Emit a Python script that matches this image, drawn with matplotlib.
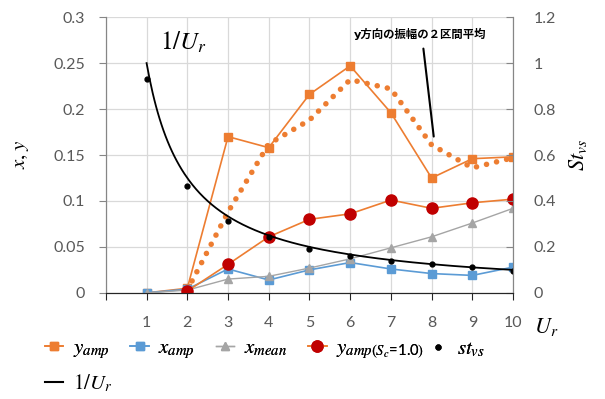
import numpy as np
import matplotlib.pyplot as plt
from matplotlib.lines import Line2D

plt.rcParams['mathtext.fontset'] = 'stix'
plt.rcParams['font.family'] = ['Lato', 'Noto Sans CJK JP', 'DejaVu Sans']

# data
ur = [1, 2, 3, 4, 5, 6, 7, 8, 9, 10]
y_amp = [0.0, 0.005, 0.170, 0.158, 0.216, 0.247, 0.196, 0.125, 0.146, 0.148]
x_amp = [0.0, 0.004, 0.026, 0.014, 0.025, 0.033, 0.026, 0.021, 0.019, 0.028]
x_mean = [0.0, 0.003, 0.015, 0.018, 0.027, 0.037, 0.049, 0.061, 0.076, 0.092]
ur_sc = [2, 3, 4, 5, 6, 7, 8, 9, 10]
y_amp_sc = [0.002, 0.031, 0.061, 0.080, 0.086, 0.101, 0.092, 0.098, 0.102]
# two-period moving average of y_amp (dotted trend line)
ur_ma = [2, 3, 4, 5, 6, 7, 8, 9, 10]
y_amp_ma = [0.003, 0.088, 0.162, 0.188, 0.232, 0.222, 0.161, 0.136, 0.147]
st_vs = [0.930, 0.465, 0.312, 0.242, 0.191, 0.162, 0.139, 0.127, 0.114, 0.094]
inv_ur = [1.0, 0.5, 0.333, 0.25, 0.2, 0.167, 0.143, 0.125, 0.111, 0.1]

ORANGE = '#ED7D31'
BLUE = '#5B9BD5'
GRAY = '#A5A5A5'
RED = '#C00000'
TXT = '#595959'


def smooth(xs, ys, n=20):
    # smoothed rendering of the line (log-log segments, curve through every point)
    lx = np.log(xs)
    ly = np.log(ys)
    ox, oy = [], []
    for i in range(len(xs) - 1):
        t = np.linspace(0, 1, n, endpoint=False)
        ox.extend(np.exp(lx[i] + (lx[i + 1] - lx[i]) * t))
        oy.extend(np.exp(ly[i] + (ly[i + 1] - ly[i]) * t))
    ox.append(xs[-1])
    oy.append(ys[-1])
    return ox, oy


fig = plt.figure(figsize=(6.05, 3.99), dpi=100)
ax = fig.add_axes([0.175, 0.266, 0.673, 0.691])
ax2 = ax.twinx()

ax.plot(ur_ma, y_amp_ma, color=ORANGE, lw=4, linestyle=(0, (0.01, 1.85)),
        dash_capstyle='round', zorder=3)
ax.plot(ur, y_amp, color=ORANGE, lw=1.2, marker='s', ms=6, mfc=ORANGE, mec=ORANGE, zorder=4)
ax.plot(ur, x_amp, color=BLUE, lw=1.2, marker='s', ms=6, mfc=BLUE, mec=BLUE, zorder=4)
ax.plot(ur, x_mean, color=GRAY, lw=1.0, marker='^', ms=6, mfc=GRAY, mec=GRAY, zorder=4)
ax.plot(ur_sc, y_amp_sc, color=ORANGE, lw=1.2, marker='o', ms=8, mfc=RED, mec=RED, zorder=5)

sx, sy = smooth(ur, inv_ur)
ax2.plot(sx, sy, color='black', lw=1.3)
ax2.plot(ur, st_vs, linestyle='none', marker='o', ms=3.5, color='black')

ax.set_xlim(0, 10)
ax.set_ylim(0, 0.3)
ax2.set_ylim(0, 1.2)
ax.set_yticks(np.arange(0, 0.31, 0.05))
ax.set_yticklabels(['0', '0.05', '0.1', '0.15', '0.2', '0.25', '0.3'])
ax2.set_yticks(np.arange(0, 1.21, 0.2))
ax2.set_yticklabels(['0', '0.2', '0.4', '0.6', '0.8', '1', '1.2'])
ax.set_xticks(range(0, 11))
ax.set_xticklabels([''] + [str(u) for u in ur])

ax.grid(True, color='#D9D9D9', lw=0.9)
ax.set_axisbelow(True)
for a in (ax, ax2):
    a.spines['top'].set_visible(False)
    a.spines['left'].set_color('#868686')
    a.spines['right'].set_color('#868686')
    a.spines['bottom'].set_color('#262626')
ax.tick_params(axis='y', direction='out', length=5, color='#868686', pad=10,
               labelsize=11.5, labelcolor=TXT)
ax.tick_params(axis='x', direction='out', length=5, color='#262626', pad=12,
               labelsize=11.5, labelcolor=TXT)
ax2.tick_params(axis='y', direction='in', length=5, color='#868686', pad=15,
                labelsize=11.5, labelcolor=TXT)

ax.set_ylabel('$x,y$', fontsize=15, labelpad=16)
ax2.set_ylabel('$St_{vs}$', fontsize=16, labelpad=8)
fig.text(0.882, 0.18, '$U_r$', fontsize=16, ha='left', va='center')

ax.text(0.133, 0.91, '$1/U_r$', transform=ax.transAxes, fontsize=18,
        ha='left', va='center')
ax.annotate('', xy=(0.806, 0.557), xytext=(0.779, 0.896),
            xycoords='axes fraction', textcoords='axes fraction',
            arrowprops=dict(arrowstyle='-', color='black', lw=1.5))
ax.text(0.771, 0.938, 'y方向の振幅の２区間平均', transform=ax.transAxes,
        fontsize=8.2, fontweight='bold', ha='center', va='center',
        family=['DejaVu Sans', 'Noto Sans CJK JP'])

leg_kw = dict(frameon=False, fontsize=15, handlelength=0.9,
              handletextpad=0.45, borderaxespad=0, loc='center left')
handles = [
    Line2D([], [], color=ORANGE, marker='s', ms=6, lw=1.2),
    Line2D([], [], color=BLUE, marker='s', ms=6, lw=1.2),
    Line2D([], [], color=GRAY, marker='^', ms=6, lw=1.0),
    Line2D([], [], color=ORANGE, marker='o', ms=8, mfc=RED, mec=RED, lw=1.2),
]
labels = ['$y_{amp}$', '$x_{amp}$', '$x_{mean}$',
          r'$y_{amp(S_c\!\mathregular{=}\!\mathregular{1.0})}$']
leg1 = fig.legend(handles, labels, bbox_to_anchor=(0.06, 0.125),
                  ncol=4, columnspacing=1.0, **leg_kw)
fig.add_artist(leg1)
leg2 = fig.legend([Line2D([], [], color='black', marker='o', ms=3.5, lw=0)],
                  ['$st_{vs}$'], bbox_to_anchor=(0.695, 0.125), **leg_kw)
fig.add_artist(leg2)
fig.legend([Line2D([], [], color='black', lw=1.5)], ['$1/U_r$'],
           bbox_to_anchor=(0.06, 0.04), **leg_kw)

fig.savefig('out.png', dpi=100)
